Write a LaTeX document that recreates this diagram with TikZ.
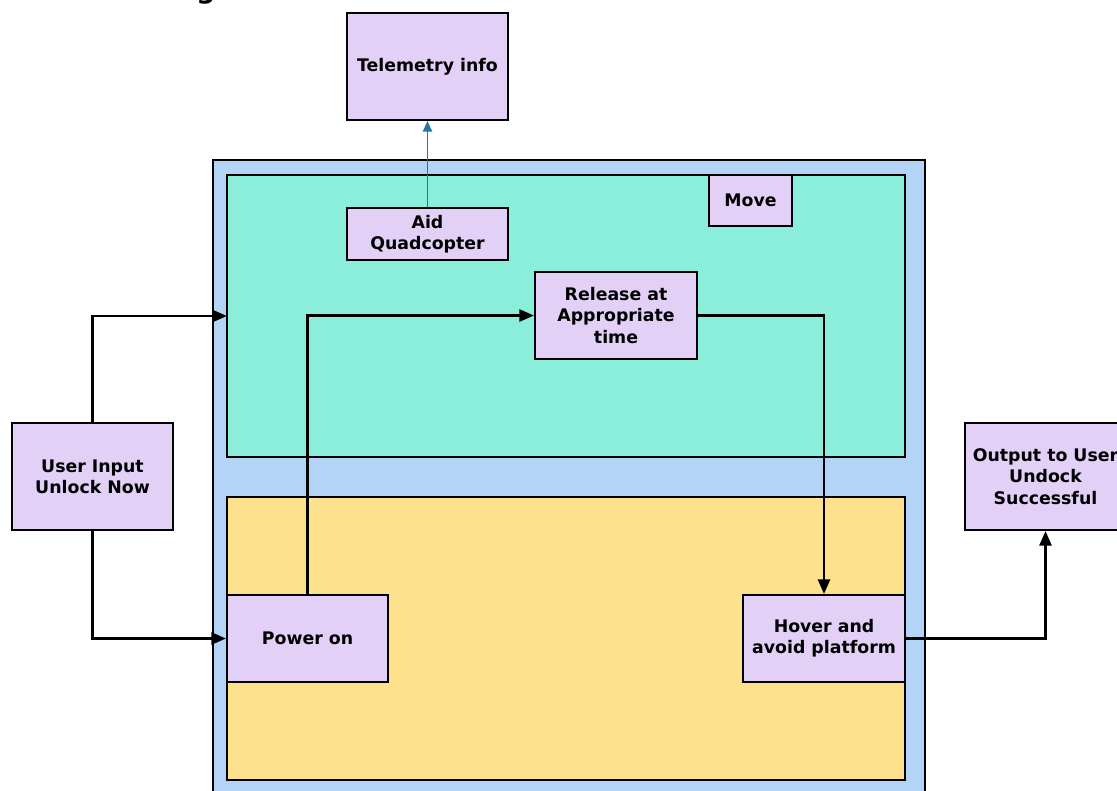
\documentclass[tikz,border=0pt]{standalone}
\usepackage{fontspec}
\setmainfont{DejaVu Sans}
\usetikzlibrary{arrows.meta}
\definecolor{boxfill}{HTML}{E2D0F6}
\definecolor{outerfill}{HTML}{B3D4F7}
\definecolor{movefill}{HTML}{8AEEDB}
\definecolor{powerfill}{HTML}{FDE18C}
\definecolor{infoline}{HTML}{2673A6}
\tikzset{
  box/.style={draw=black, fill=boxfill, line width=1.5pt, align=center, inner sep=0pt,
    font=\fontsize{13}{16}\selectfont\bfseries},
  region/.style={draw=black, line width=1.5pt},
  flow/.style={draw=black, line width=2pt, -{Triangle[length=11pt,width=9pt]}},
  info/.style={draw=infoline, line width=1.1pt, -{Triangle[length=8pt,width=7pt]}}
}
\begin{document}
\begin{tikzpicture}[x=0.75pt, y=-0.75pt]
\clip (0,0) rectangle (1117,790);
\fill[white] (0,0) rectangle (1117,790);

% title (its top runs off the page)
\node[anchor=base, inner sep=0pt, font=\fontsize{20}{24}\selectfont\bfseries] (title) at (206,-2) {g};

% containers
\draw[region, fill=outerfill] (213,160) rectangle (925,800);
\draw[region, fill=movefill] (227,175) rectangle (905,457);
\draw[region, fill=powerfill] (227,497) rectangle (905,780);
\coordinate (movein) at (227,316);

% boxes
\node[box, minimum width=120.75pt, minimum height=80.25pt] (tel) at (427.5,66.5) {Telemetry info};
\node[box, minimum width=120.75pt, minimum height=39pt] (aid) at (427.5,234) {Aid\\Quadcopter};
\node[box, minimum width=62.25pt, minimum height=38.25pt] (move) at (750.5,200.5) {Move};
\node[box, minimum width=121.5pt, minimum height=65.25pt] (rel) at (616,315.5) {Release at\\Appropriate\\time};
\node[box, minimum width=120.75pt, minimum height=80.25pt] (ui) at (92.5,476.5) {User Input\\Unlock Now};
\node[box, minimum width=120.75pt, minimum height=80.25pt] (out) at (1045.5,476.5) {Output to User\\Undock\\Successful};
\node[box, minimum width=120.75pt, minimum height=65.25pt] (pwr) at (307.5,638.5) {Power on};
\node[box, minimum width=121.5pt, minimum height=65.25pt] (hov) at (824,638.5) {Hover and\\avoid platform};

% connectors
\draw[info] (aid.north) -- (tel.south);
\draw[flow] (ui.north) |- (movein);
\draw[flow] (ui.south) |- (pwr.west);
\draw[flow] (pwr.north) |- (rel.west);
\draw[flow] (rel.east) -| (hov.north);
\draw[flow] (hov.east) -| (out.south);
\end{tikzpicture}
\end{document}
